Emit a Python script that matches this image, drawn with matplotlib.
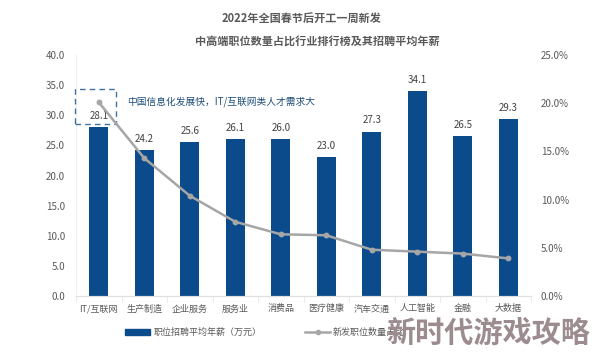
import matplotlib.pyplot as plt
from matplotlib.patches import Rectangle
from matplotlib.ticker import FuncFormatter
import numpy as np

plt.rcParams['font.family'] = ['Noto Sans CJK SC', 'DejaVu Sans']

# data
industries = ['IT/互联网', '生产制造', '企业服务', '服务业', '消费品',
              '医疗健康', '汽车交通', '人工智能', '金融', '大数据']
salary = [28.1, 24.2, 25.6, 26.1, 26.0, 23.0, 27.3, 34.1, 26.5, 29.3]
share = [20.1, 14.3, 10.4, 7.7, 6.4, 6.3, 4.8, 4.6, 4.4, 3.9]

bar_col = '#0B4A8B'
line_col = '#A6A6A6'
txt_col = '#595959'

fig = plt.figure(figsize=(5.94, 3.61), dpi=100)
ax = fig.add_axes([76 / 594, 1 - 296 / 361, 455 / 594, 241 / 361])
ax2 = ax.twinx()

x = np.arange(len(industries))
bars = ax.bar(x, salary, width=0.42, color=bar_col, zorder=2)
for xi, v in zip(x, salary):
    ax.text(xi, v + 1.0, f'{v:.1f}', ha='center', va='bottom',
            fontsize=7, color='#404040')

ax2.plot(x, share, color=line_col, lw=1.8, marker='o', ms=3.2, zorder=3)

ax.set_xlim(-0.5, len(industries) - 0.5)
ax.set_ylim(0, 40)
ax.set_yticks(np.arange(0, 41, 5))
ax.yaxis.set_major_formatter(FuncFormatter(lambda v, p: f'{v:.1f}'))
ax2.set_ylim(0, 25)
ax2.set_yticks(np.arange(0, 26, 5))
ax2.yaxis.set_major_formatter(FuncFormatter(lambda v, p: f'{v:.1f}%'))

ax.set_xticks(x)
ax.set_xticklabels(industries)
ax.set_xticks(np.arange(-0.5, len(industries)), minor=True)
ax.tick_params(axis='x', which='major', length=0, labelsize=6.5,
               colors=txt_col, pad=6)
ax.tick_params(axis='x', which='minor', length=4, color='#E6E6E6')
ax.tick_params(axis='y', length=0, labelsize=7, colors=txt_col, pad=8)
ax2.tick_params(axis='y', length=0, labelsize=7, colors=txt_col, pad=7)

for a in (ax, ax2):
    for s in ('top', 'right', 'left'):
        a.spines[s].set_visible(False)
    a.spines['bottom'].set_color('#E0E0E0')
ax.spines['left'].set_visible(True)
ax.spines['left'].set_color('#F0F0F0')

# highlight box and note
ax.add_patch(Rectangle((-0.52, 28.5), 0.9, 5.8, fill=False, ls=(0, (4, 3)),
                       lw=1.0, ec='#41719C', zorder=4, clip_on=False))
ax.text(0.63, 32.2, '中国信息化发展快，IT/互联网类人才需求大', fontsize=7,
        color='#1F4E79', va='center', ha='left')

fig.text(0.508, 0.95, '2022年全国春节后开工一周新发', ha='center', va='center',
         fontsize=8, fontweight='bold', color=txt_col)
fig.text(0.535, 0.885, '中高端职位数量占比行业排行榜及其招聘平均年薪',
         ha='center', va='center', fontsize=8, fontweight='bold', color=txt_col)

# legend
lx, ly = 125 / 594, 1 - 332 / 361
fig.add_artist(Rectangle((lx, ly - 0.008), 25 / 594, 0.016,
                         transform=fig.transFigure, color=bar_col))
fig.text(lx + 29 / 594, ly, '职位招聘平均年薪（万元）', fontsize=6.5,
         color=txt_col, va='center')
fig.add_artist(plt.Line2D([305 / 594, 330 / 594], [ly, ly],
                          transform=fig.transFigure, color=line_col, lw=1.8))
fig.add_artist(plt.Line2D([318 / 594], [ly], transform=fig.transFigure,
                          color=line_col, marker='o', ms=3))
fig.text(333 / 594, ly, '新发职位数量占比', fontsize=6.5, color=txt_col,
         va='center')

# site watermark
fig.text(488 / 594, 1 - 333 / 361, '新时代游戏攻略', fontsize=21,
         fontweight='bold', color='#9C8C90', ha='center', va='center')

fig.savefig('out.png', dpi=100)
